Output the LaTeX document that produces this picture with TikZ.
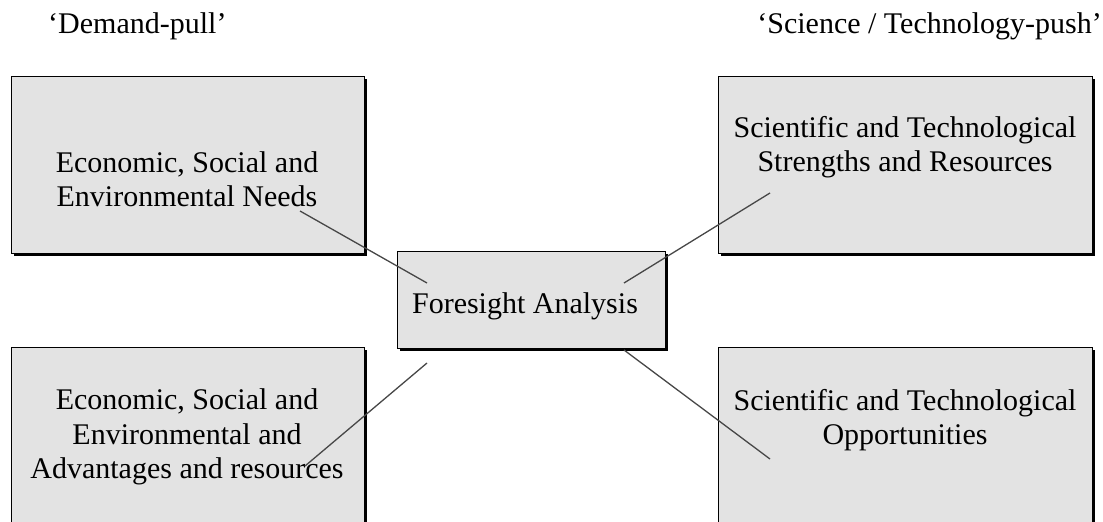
\documentclass[tikz,border=0pt]{standalone}
\usepackage{fontspec}
\setmainfont{Liberation Serif}
\usetikzlibrary{shadows}
\begin{document}
\begin{tikzpicture}[x=1pt,y=-1pt,
  box/.style={draw=black, line width=1pt, fill=black!11, rectangle,
    inner sep=0pt, outer sep=0pt,
    drop shadow={shadow xshift=2.5pt, shadow yshift=-2.5pt, fill=black, opacity=1}},
  txt/.style={anchor=base, inner sep=0pt, font=\fontsize{30}{34.5}\selectfont},
  link/.style={draw=black!72, line width=1.3pt}]
\useasboundingbox (0,0) rectangle (1103,522);
\clip (0,0) rectangle (1103,522);

% headings
\node[txt, anchor=base west] (hdl) at (48,33) {‘Demand-pull’};
\node[txt, anchor=base east] (hdr) at (1102,33) {‘Science / Technology-push’};

% boxes
\node[box, minimum width=353pt, minimum height=177pt] (tl) at (187.5,164.5) {};
\node[box, minimum width=374pt, minimum height=177pt] (tr) at (905,164.5) {};
\node[box, minimum width=353pt, minimum height=200pt] (bl) at (187.5,447) {};
\node[box, minimum width=374pt, minimum height=200pt] (br) at (905,447) {};
\node[box, minimum width=268pt, minimum height=97pt] (fa) at (531,299.5) {};

% box texts
\node[txt] (tl1) at (187,172.7) {Economic, Social and};
\node[txt] (tl2) at (187,206.7) {Environmental Needs};
\node[txt] (tr1) at (905,137.7) {Scientific and Technological};
\node[txt] (tr2) at (905,171.7) {Strengths and Resources};
\node[txt] (bl1) at (187,409.5) {Economic, Social and};
\node[txt] (bl2) at (187,444) {Environmental and};
\node[txt] (bl3) at (187,478.5) {Advantages and resources};
\node[txt] (br1) at (905,410) {Scientific and Technological};
\node[txt] (br2) at (905,444.5) {Opportunities};
\node[txt] (fa1) at (525,313) {Foresight Analysis};

% connector end points
\coordinate (tlE) at (300,211);
\coordinate (faNW) at (427,283);
\coordinate (trE) at (770,193);
\coordinate (faNE) at (624,283);
\coordinate (blE) at (305,466);
\coordinate (faSW) at (427,363);
\coordinate (brE) at (770,459);
\coordinate (faSE) at (624,350);

% connectors
\draw[link] (tlE) -- (faNW);
\draw[link] (trE) -- (faNE);
\draw[link] (faSW) -- (blE);
\draw[link] (faSE) -- (brE);
\end{tikzpicture}
\end{document}
